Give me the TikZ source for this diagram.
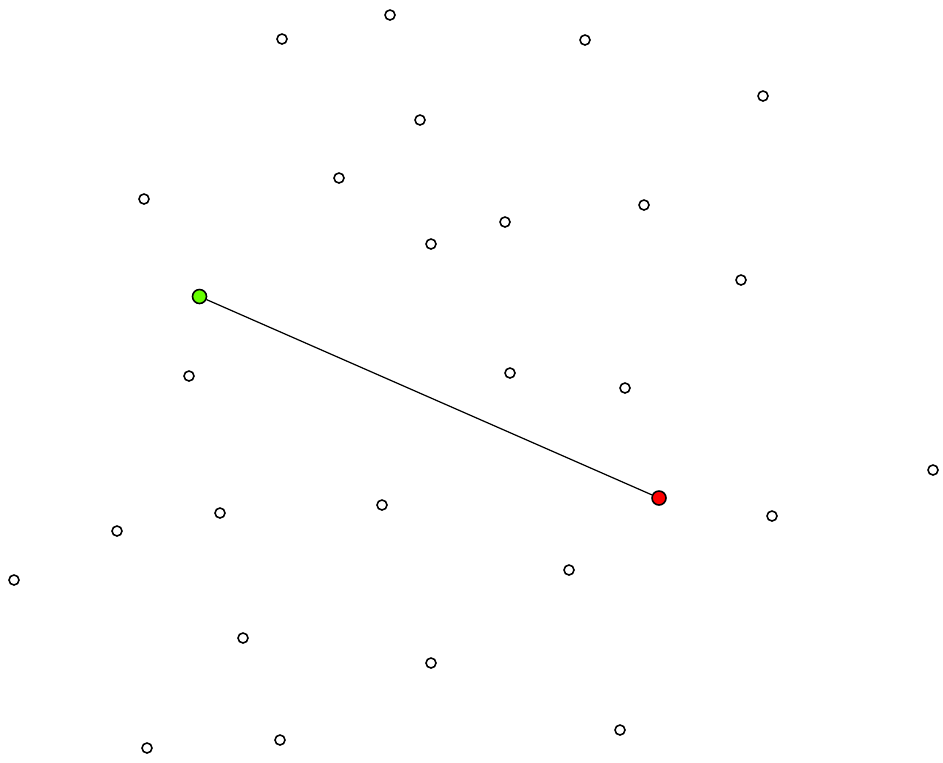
\documentclass[tikz,border=0pt]{standalone}
\usetikzlibrary{positioning}
\definecolor{Start}{RGB}{102,255,0}
\definecolor{Goal}{RGB}{255,0,0}

\begin{document}
\begin{tikzpicture}[
    x=0.02cm,y=-0.02cm,
    site/.style={circle,draw=black,fill=white,line width=0.9pt,inner sep=0pt,minimum size=0.2cm},
    endpt/.style={circle,draw=black,line width=0.9pt,inner sep=0pt,minimum size=0.28cm},
    edge/.style={line width=0.7pt}
]
\useasboundingbox (0,0) rectangle (943,762);

% Sample points
\foreach \x/\y [count=\i] in {390/15,282/39,585/40,763/96,420/120,339/178,144/199,644/205,505/222,431/244,741/280,189/376,510/373,625/388,933/470,382/505,220/513,772/516,117/531,14/580,569/570,243/638,431/663,620/730,280/740,147/748}
    \node[site] (p\i) at (\x,\y) {};

% Start and goal
\node[endpt,fill=Start] (start) at (199.5,296.5) {};
\node[endpt,fill=Goal] (goal) at (659,498) {};

\draw[edge] (start) -- (goal);

\end{tikzpicture}
\end{document}
